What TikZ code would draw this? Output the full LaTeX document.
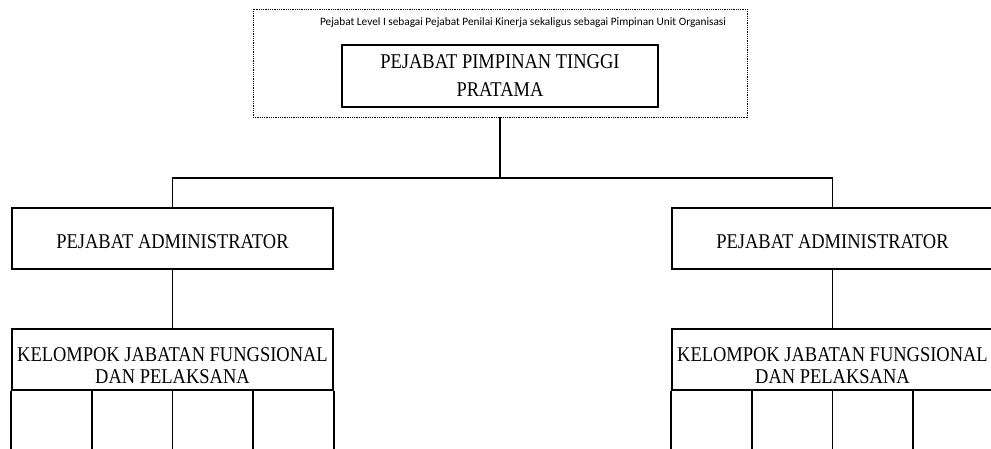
\documentclass[tikz,border=0pt]{standalone}
\usepackage{fontspec}
\usetikzlibrary{calc}
\newfontfamily\boxfont[FakeStretch=0.88]{Liberation Serif}
\newfontfamily\capfont{Carlito}
\begin{document}
\begin{tikzpicture}[x=1pt,y=-1pt,
  unitbox/.style={draw, line width=0.9pt, dash pattern=on 0.9pt off 0.9pt,
    minimum width=494pt, minimum height=108pt, inner sep=0pt},
  orgbox/.style={draw, line width=1.8pt, inner sep=0pt,
    minimum width=321pt, minimum height=61pt},
  boxtext/.style={align=center, inner sep=0pt,
    font=\boxfont\fontsize{21}{28}\selectfont},
  grouptext/.style={boxtext, font=\boxfont\fontsize{21}{21.5}\selectfont},
  link/.style={line width=1.5pt}]
\useasboundingbox (0,0) rectangle (991,448);
\fill[white] (0,0) rectangle (991,448);

% unit organisasi (dotted frame) with its caption
\node[unitbox] (unit) at (500,63) {};
\node[font=\capfont\fontsize{11.3}{13}\selectfont, inner sep=0pt] (cap) at (523,22.5)
  {Pejabat Level I sebagai Pejabat Penilai Kinerja sekaligus sebagai Pimpinan Unit Organisasi};

% top official
\node[orgbox, boxtext, minimum width=316pt, minimum height=62pt] (top) at (500,76)
  {PEJABAT PIMPINAN TINGGI\\PRATAMA};

% administrators
\node[orgbox] (admL) at (172.5,238.5) {};
\node[boxtext] (admLt) at (172.5,241.5) {PEJABAT ADMINISTRATOR};
\node[orgbox] (admR) at (832.5,238.5) {};
\node[boxtext] (admRt) at (832.5,241.5) {PEJABAT ADMINISTRATOR};

% functional groups
\node[orgbox] (kelL) at (172.5,359.5) {};
\node[grouptext] (kelLt) at (172.5,365.5) {KELOMPOK JABATAN FUNGSIONAL\\DAN PELAKSANA};
\node[orgbox] (kelR) at (832.5,359.5) {};
\node[grouptext] (kelRt) at (832.5,365.5) {KELOMPOK JABATAN FUNGSIONAL\\DAN PELAKSANA};

% connectors
\coordinate (bus) at (500,178);
\draw[link] (unit.south) -- (bus);
\draw[link] (admL.north) |- (bus) -| (admR.north);
\draw[link] (admL.south) -- (kelL.north);
\draw[link] (admR.south) -- (kelR.north);

% columns below each group
\foreach \g in {kelL,kelR}{
  \foreach \f in {0,0.25,0.5,0.75,1}{
    \coordinate (c) at ($(\g.south west)!\f!(\g.south east)$);
    \draw[link] (c) -- ++(0,62);
  }
}
\end{tikzpicture}
\end{document}
